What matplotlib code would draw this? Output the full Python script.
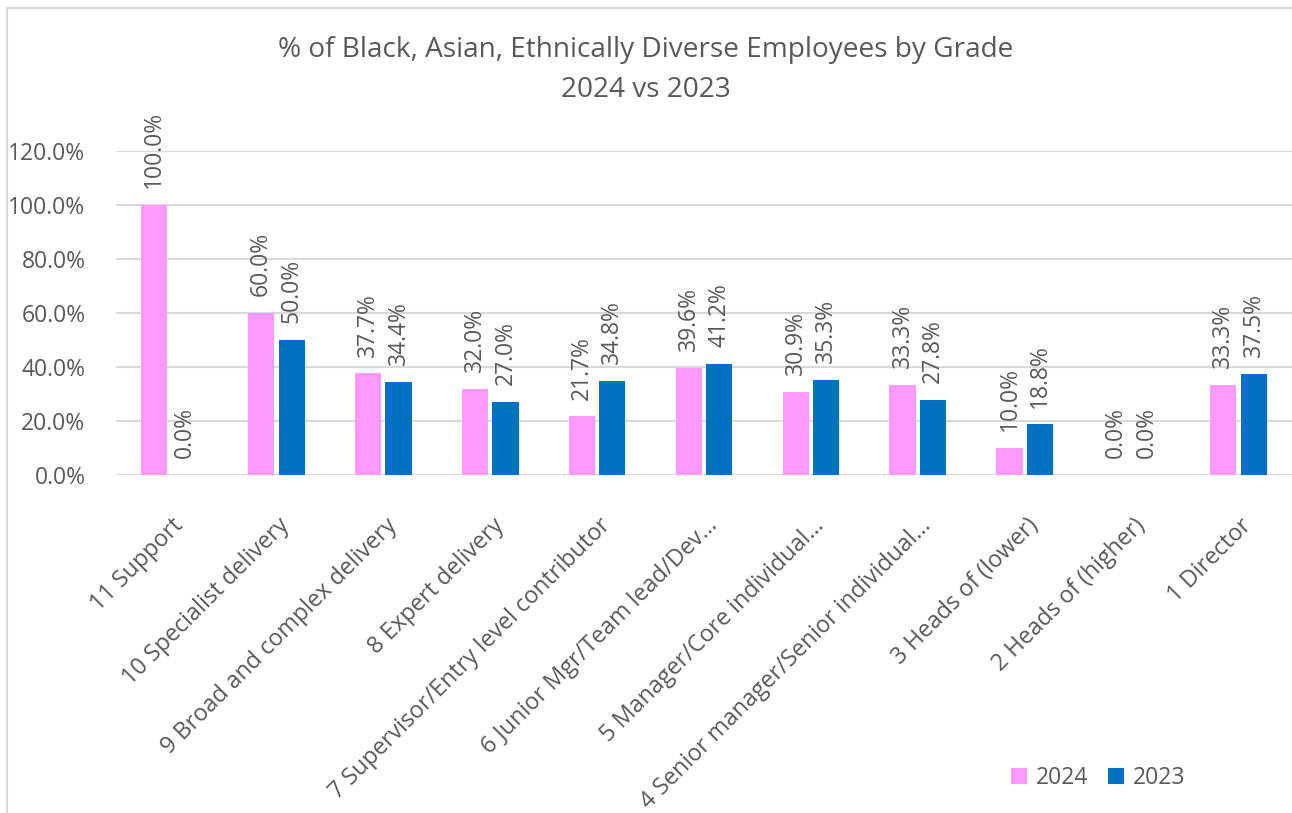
import numpy as np
import matplotlib.pyplot as plt
from matplotlib.patches import Rectangle
from matplotlib.ticker import FuncFormatter
from matplotlib.transforms import ScaledTranslation

plt.rcParams['font.family'] = ['Open Sans', 'DejaVu Sans']

grades = ["11 Support", "10 Specialist delivery", "9 Broad and complex delivery",
          "8 Expert delivery", "7 Supervisor/Entry level contributor",
          "6 Junior Mgr/Team lead/Dev…", "5 Manager/Core individual…",
          "4 Senior manager/Senior individual…", "3 Heads of (lower)",
          "2 Heads of (higher)", "1 Director"]
pct_2024 = [100.0, 60.0, 37.7, 32.0, 21.7, 39.6, 30.9, 33.3, 10.0, 0.0, 33.3]
pct_2023 = [0.0, 50.0, 34.4, 27.0, 34.8, 41.2, 35.3, 27.8, 18.8, 0.0, 37.5]

pink = '#FF99FF'
blue = '#0070C0'
grey = '#595959'
fs = 16.5

W, H = 1292, 813
fig = plt.figure(figsize=(W/100, H/100), dpi=100)

# chart frame
fig.patches.append(Rectangle((7/W, -0.01), 1.1, (H-8)/H + 0.01, transform=fig.transFigure,
                             fill=False, edgecolor='#D9D9D9', linewidth=1.5))

ax = fig.add_axes([116/W, (H-475)/H, 1176/W, 324/H])

x = np.arange(len(grades))
w = 0.245
off = 0.143
b1 = ax.bar(x - off, pct_2024, w, color=pink, label='2024', zorder=3)
b2 = ax.bar(x + off, pct_2023, w, color=blue, label='2023', zorder=3)

for bars, vals in ((b1, pct_2024), (b2, pct_2023)):
    for r, v in zip(bars, vals):
        ax.annotate(f"{v:.1f}%", (r.get_x() + r.get_width()/2, v),
                    xytext=(0, 12), textcoords='offset points',
                    rotation=90, ha='center', va='bottom', fontsize=fs, color=grey)

ax.set_xlim(-0.5, len(grades) - 0.5)
ax.set_ylim(0, 120)
ax.set_yticks(np.arange(0, 121, 20))
ax.yaxis.set_major_formatter(FuncFormatter(lambda v, p: f"{v:.1f}%"))
ax.grid(axis='y', color='#D9D9D9', linewidth=1.5, zorder=0)
ax.set_axisbelow(True)
for s in ax.spines.values():
    s.set_visible(False)
ax.tick_params(length=0, labelsize=fs, colors=grey)
ax.tick_params(axis='y', pad=22)

ax.set_xticks(x)
ax.set_xticklabels(grades, rotation=45, ha='right', va='center', rotation_mode='anchor',
                   fontsize=16.8)
ax.tick_params(axis='x', pad=34)
shift = ScaledTranslation(0.1, 0, fig.dpi_scale_trans)
for lbl in ax.get_xticklabels():
    lbl.set_transform(lbl.get_transform() + shift)

fig.text(0.5, 1 - 50/H, "% of Black, Asian, Ethnically Diverse Employees by Grade",
         ha='center', va='center', fontsize=20.2, color=grey)
fig.text(0.5, 1 - 90/H, "2024 vs 2023", ha='center', va='center', fontsize=20.2, color=grey)

fig.legend(handles=[b1, b2], loc='center', bbox_to_anchor=(1098/W, 1 - 778/H), ncol=2,
           frameon=False, fontsize=fs, labelcolor=grey, handlelength=0.7, handleheight=0.7,
           handletextpad=0.4, columnspacing=0.85)

fig.savefig('out.png', dpi=100, facecolor='white')
